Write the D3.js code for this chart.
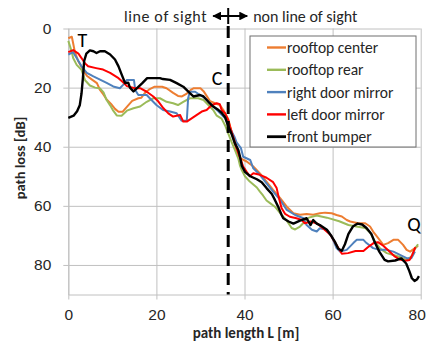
<!DOCTYPE html>
<html>
<head>
<meta charset="utf-8">
<script src="https://cdn.jsdelivr.net/npm/d3@7"></script>
<style>
  html, body { margin: 0; padding: 0; background: #fff; }
  svg { display: block; font-family: Carlito, Calibri, Lato, sans-serif; }
</style>
</head>
<body>
<svg id="chart" width="427" height="349"></svg>
<script>
// Path loss measured along the driving path, one trace per antenna position.
// Each point is [path length L (m), path loss (dB)].
const seriesNames = ["rooftop center", "rooftop rear", "right door mirror", "left door mirror", "front bumper"];

const rooftopCenter = [
  [0,3.3],[0.8,2.8],[1.1,5],[1.5,8],[2.3,11.2],[3.4,14],[4.2,16],[5.3,17.2],[6.5,18.5],[7.2,20.8],
  [8.0,22.4],[8.7,24],[9.7,25.5],[10.6,27.2],[11.4,28.2],[12.3,28.2],[13.3,26.5],[14.5,24.5],[15.9,23.6],
  [16.6,23.4],[17.4,21.8],[18.5,20.5],[19.6,19.7],[21.3,19.7],[22.3,20.2],[23.8,21.8],[24.9,22.8],[25.8,23],
  [26.9,22],[27.8,20.8],[28.5,20.2],[30.0,20.2],[30.7,21.2],[31.4,22.8],[32.2,24.6],[33.3,25.3],[34.4,25.9],
  [35.2,27.6],[36.3,30.6],[37.1,35],[38.2,41.5],[39.0,43.9],[40.5,45],[42.0,46.7],[43.5,49],[45.0,51.8],
  [46.5,54.6],[48.1,57.4],[49.6,60.3],[51.1,62.5],[52.6,63],[54.1,62.8],[55.6,63],[57.1,62.5],[58.3,62.3],
  [59.8,62.5],[60.9,63.1],[62.1,63.6],[63.2,64.8],[64.0,65.3],[65.8,65.9],[67.4,65.9],[68.5,67],[69.2,68.7],
  [70.4,71],[71.5,73.2],[72.6,72.6],[73.8,71.5],[74.9,71.5],[76.0,73.2],[76.8,74.9],[77.6,75.5],[78.7,74.3],[79.4,73.5]
];

const rooftopRear = [
  [0,4.2],[0.4,6],[0.8,8],[1.1,10],[1.9,12.3],[3.0,14],[3.8,17.5],[4.9,19.3],[6.1,20],[7.2,20.3],
  [8.0,21.6],[8.7,24.2],[9.5,26],[10.2,27.8],[11.0,29.4],[12.1,29.5],[13.3,27.8],[14.8,27],[16.3,26.4],
  [17.8,24.8],[19.3,23.6],[20.8,23.6],[22.3,24.8],[23.8,25.3],[24.9,25.9],[26.1,24.8],[27.6,23.6],[29.5,23.6],
  [30.7,24.2],[31.8,25.9],[32.9,27.6],[33.7,29.5],[34.8,30.5],[35.6,32.8],[36.3,35.5],[37.1,38.5],[37.8,41],
  [38.6,44],[39.0,46.5],[39.4,48],[40.1,50],[41.2,51.8],[42.8,53.8],[43.5,55.2],[44.2,56.5],[45.0,58.2],
  [45.8,59.1],[46.9,60.3],[48.1,62.5],[49.6,65],[50.7,67.5],[51.5,68],[52.6,67],[53.7,65.3],[54.6,64],
  [56.4,63.3],[58.7,64],[61.5,65.2],[63.6,66.5],[65.4,67],[67.4,67.5],[68.5,69],[69.6,72],[70.8,74.5],
  [72.3,76],[74.2,76.8],[75.6,77.5],[76.8,78.3],[77.9,77.2],[78.7,74.5],[79.4,73]
];

const rightDoorMirror = [
  [0,8.8],[1.1,8],[1.9,10],[3.0,12.8],[4.2,15],[5.7,16.2],[7.2,17.3],[8.7,18.4],[10.2,19.6],[11.7,20.2],
  [12.5,19],[13.3,17.4],[14.9,17.4],[15.2,20.8],[15.9,22.5],[17.8,22.5],[18.5,23.6],[20.0,25.9],[21.5,27.6],
  [23.1,28.1],[24.6,28.7],[25.7,31.2],[26.9,31.2],[27.2,23.6],[27.6,21.4],[28.8,21.4],[29.9,22.5],[31.0,23.6],
  [32.2,25.3],[33.3,27],[34.1,28.1],[35.6,30.4],[36.3,32.6],[37.1,34.9],[37.7,36.6],[38.2,38.5],[39.2,40.5],
  [39.7,43.4],[41.3,44.5],[42.0,47.3],[43.5,49.5],[45.0,52.4],[46.5,55.2],[48.1,58],[49.6,61.4],[51.5,63.1],
  [53.4,64.2],[54.1,66.5],[55.3,68.1],[56.4,68.7],[57.1,67.6],[58.7,68.1],[59.8,70.4],[60.9,74.3],[61.7,75.5],
  [63.2,74.9],[64.7,72.6],[65.5,71.5],[67.0,71.5],[67.7,72.6],[69.2,74.3],[70.8,74.9],[72.3,74.9],[73.8,75.5],
  [75.3,76.6],[76.8,77.7],[77.9,77.7],[78.7,75.5]
];

const leftDoorMirror = [
  [0,8],[1.1,7.3],[2.3,8.5],[3.0,10],[3.8,11.8],[4.5,12.8],[6.3,13.4],[7.9,13.9],[9.5,15],[11.4,16.8],
  [12.5,18.3],[13.3,19.5],[15.1,20.2],[16.3,20.2],[17.8,21.4],[19.3,23],[20.5,24.8],[21.6,27],[22.7,28.7],
  [23.8,29.8],[25.4,29.3],[26.1,31.5],[26.9,31.5],[28.0,30.4],[29.1,29.3],[30.3,28.1],[31.4,27.6],[32.6,25.9],
  [33.7,25.3],[34.4,25.6],[34.8,27.6],[35.6,28.7],[36.3,31],[36.7,33.2],[37.5,37],[38.2,40.4],[39.0,43.8],
  [39.7,46.7],[40.5,48.5],[41.2,50],[42.0,49],[43.5,49.5],[45.0,50.5],[46.5,52],[47.3,54],[47.8,57.3],
  [48.4,60.7],[49.2,62.7],[50.3,63.7],[51.8,64.2],[53.0,64.8],[53.7,65.9],[55.0,65.3],[56.5,66],[58.0,67.8],
  [59.5,69.8],[61.0,73.5],[62.1,76.2],[63.5,76],[65.2,75.3],[67.0,75.3],[68.0,74],[69.3,72.6],[70.3,72.3],
  [71.5,73.5],[72.8,75.3],[74.0,77],[75.3,78.2],[76.5,78.6],[77.5,78.3],[78.1,76.5],[78.8,74]
];

const frontBumper = [
  [0,30.2],[1.2,29.5],[2.0,28],[2.6,26],[3.0,22],[3.3,17],[3.6,11],[4.1,8.5],[4.9,7.4],[5.7,7.7],
  [6.4,8.3],[7.2,7.7],[8.3,7.7],[9.5,8.8],[10.6,10.5],[11.4,12.8],[12.1,15.5],[12.9,18.5],[13.6,18.3],
  [14.0,20],[14.8,21.3],[15.6,20.2],[16.8,18.5],[17.9,16.8],[20.8,16.8],[21.5,17.1],[23.1,17.4],[24.6,18.5],
  [26.1,19.7],[27.6,21.9],[28.4,23],[29.9,22.5],[30.7,23],[31.8,24.8],[32.9,26.4],[34.1,27.6],[34.8,28.5],
  [35.6,30],[36.3,33],[37.1,35.8],[37.8,38.8],[38.6,41.1],[39.0,43.5],[39.4,46.5],[40.1,48.5],[41.3,50],
  [42.8,51],[43.9,52],[45.0,54],[46.2,56],[46.9,58],[47.7,60.5],[48.4,63],[48.8,64.2],[50.0,65.3],[51.1,66],
  [52.6,65],[54.1,64.2],[55.0,66.5],[55.6,64.8],[56.4,66],[57.1,66.5],[58.7,68.1],[59.8,70.4],[60.5,72.1],
  [61.3,74.5],[62.1,75.2],[62.8,73],[63.6,69.5],[64.6,67],[65.7,66],[66.7,66.3],[67.7,67.5],[68.8,69.5],
  [69.5,72.1],[70.6,75.5],[71.8,78.3],[72.6,78.8],[74.2,78.5],[75.6,77.8],[76.7,79.5],[77.4,82],[78.0,84.5],
  [78.6,85.4],[79.2,84.8],[79.6,83.8]
];

const xTicks = [0, 20, 40, 60, 80];
const yTicks = [0, 20, 40, 60, 80];
const boundaryL = 36.3;       // transition from line of sight to non line of sight
const markers = [             // labelled positions along the path
  { label: "T", L: 3.2, dB: 3.8 },
  { label: "C", L: 33.8, dB: 16.8 },
  { label: "Q", L: 78.5, dB: 66.2 }
];

// ---- layout & styling ----
const colors = ["#ED7D31", "#9BBB59", "#4F81BD", "#FF0000", "#000000"];
const widths = [2, 2, 2, 2, 2.4];
const seriesData = [rooftopCenter, rooftopRear, rightDoorMirror, leftDoorMirror, frontBumper];

const svg = d3.select("#chart");
const plot = { left: 68.3, right: 420.7, top: 28.5, bottom: 294.5 };

const x = d3.scaleLinear().domain([0, 80]).range([plot.left, plot.right]);
const y = d3.scaleLinear().domain([0, 90]).range([plot.top, plot.bottom]);

const gridColor = "#c0c0c0";
const textColor = "#262626";

// y axis with horizontal gridlines
const yAxis = svg.append("g")
  .attr("transform", `translate(${plot.left},0)`)
  .call(d3.axisLeft(y).tickValues(yTicks).tickSizeInner(-(plot.right - plot.left)).tickSizeOuter(0).tickPadding(17));
yAxis.select(".domain").attr("stroke", gridColor);
yAxis.selectAll(".tick line").attr("stroke", gridColor).attr("x1", -5);
yAxis.selectAll(".tick text").attr("fill", textColor).style("font-size", "15.5px");

// x axis with vertical gridlines
const xAxis = svg.append("g")
  .attr("transform", `translate(0,${plot.bottom})`)
  .call(d3.axisBottom(x).tickValues(xTicks).tickSizeInner(-(plot.bottom - plot.top)).tickSizeOuter(0).tickPadding(14));
xAxis.select(".domain").attr("stroke", gridColor);
xAxis.selectAll(".tick line").attr("stroke", gridColor).attr("y1", 5);
xAxis.selectAll(".tick text")
  .attr("fill", textColor)
  .style("font-size", "15.5px")
  .attr("dx", d => d === 80 ? -4 : 0);

// series traces
const line = d3.line().x(d => x(d[0])).y(d => y(d[1]));
svg.append("g").selectAll("path")
  .data(seriesData)
  .join("path")
  .attr("d", line)
  .attr("fill", "none")
  .attr("stroke", (d, i) => colors[i])
  .attr("stroke-width", (d, i) => widths[i])
  .attr("stroke-linejoin", "round");

// boundary between line of sight and non line of sight
const bx = x(boundaryL);
svg.append("line")
  .attr("x1", bx).attr("x2", bx)
  .attr("y1", 26).attr("y2", plot.bottom)
  .attr("stroke", "#000").attr("stroke-width", 3)
  .attr("stroke-dasharray", "12,7");
svg.append("line")
  .attr("x1", bx).attr("x2", bx).attr("y1", 8).attr("y2", 24)
  .attr("stroke", "#000").attr("stroke-width", 2);

const defs = svg.append("defs");
defs.append("marker")
  .attr("id", "head").attr("viewBox", "0 0 10 10")
  .attr("refX", 9).attr("refY", 5)
  .attr("markerWidth", 4).attr("markerHeight", 4)
  .attr("orient", "auto-start-reverse")
  .append("path").attr("d", "M0,0 L10,5 L0,10 Z").attr("fill", "#000");
svg.append("line")
  .attr("x1", bx - 15).attr("x2", bx + 19)
  .attr("y1", 16).attr("y2", 16)
  .attr("stroke", "#000").attr("stroke-width", 2.2)
  .attr("marker-start", "url(#head)").attr("marker-end", "url(#head)");

svg.append("text")
  .attr("x", bx - 21).attr("y", 16).attr("dy", "0.35em")
  .attr("text-anchor", "end").attr("fill", textColor)
  .style("font-size", "16px").style("letter-spacing", "0.6px")
  .text("line of sight");
svg.append("text")
  .attr("x", bx + 25).attr("y", 16).attr("dy", "0.35em")
  .attr("text-anchor", "start").attr("fill", textColor)
  .style("font-size", "16px")
  .text("non line of sight");

// marker letters
svg.append("g").selectAll("text")
  .data(markers)
  .join("text")
  .attr("x", d => x(d.L)).attr("y", d => y(d.dB))
  .attr("dy", "0.35em")
  .attr("text-anchor", "middle")
  .attr("fill", "#000")
  .style("font-size", "20px")
  .text(d => d.label);

// legend
const legend = svg.append("g").attr("transform", "translate(250,36)");
legend.append("rect")
  .attr("width", 166).attr("height", 111)
  .attr("fill", "#fff").attr("stroke", "#6f6f6f").attr("stroke-width", 1);
const rows = legend.selectAll("g.row")
  .data(seriesNames)
  .join("g")
  .attr("class", "row")
  .attr("transform", (d, i) => `translate(0,${11.5 + i * 22.3})`);
rows.append("line")
  .attr("x1", 17).attr("x2", 36)
  .attr("stroke", (d, i) => colors[i])
  .attr("stroke-width", (d, i) => widths[i] + 0.4);
rows.append("text")
  .attr("x", 37).attr("dy", "0.35em")
  .attr("fill", textColor)
  .style("font-size", "15.5px")
  .text(d => d);

// axis titles
svg.append("text")
  .attr("x", 246).attr("y", 338)
  .attr("text-anchor", "middle").attr("fill", textColor)
  .style("font-size", "15px").style("font-weight", "bold")
  .text("path length L [m]");
svg.append("text")
  .attr("transform", "translate(20,158) rotate(-90)")
  .attr("dy", "0.35em")
  .attr("text-anchor", "middle").attr("fill", textColor)
  .style("font-size", "14.5px").style("font-weight", "bold")
  .text("path loss [dB]");
</script>
</body>
</html>
